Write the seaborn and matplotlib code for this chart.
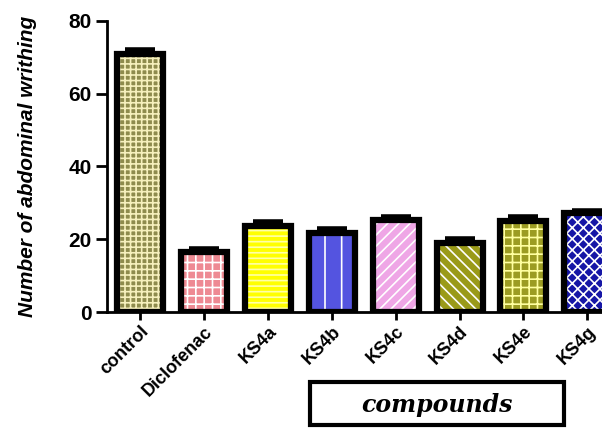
import matplotlib
matplotlib.use("Agg")
import matplotlib.pyplot as plt
import seaborn as sns
import pandas as pd
import numpy as np
from matplotlib.patches import Rectangle

categories = ["control", "Diclofenac", "KS4a", "KS4b", "KS4c", "KS4d", "KS4e", "KS4g"]
values = [71.0, 16.6, 23.6, 21.8, 25.4, 19.1, 24.9, 27.1]
errors = [1.0, 0.7, 1.1, 0.9, 0.8, 0.9, 1.3, 0.8]

face_colors = ["#8e8b4d", "#ee8a93", "#ffff00", "#5454e0", "#efa6e6", "#9a9a18", "#9c9c22", "#1616a6"]
hatch_colors = ["#f6f0bd", "#ffffff", "#ffffa8", "#ffffff", "#ffffff", "#ffffff", "#ffffa0", "#ffffff"]
hatches = ["+++", "++", "---", "|", "///", "\\\\\\", "++", "xxx"]

df = pd.DataFrame({"compound": categories, "value": values, "err": errors})

sns.set_style("white")
plt.rcParams["hatch.linewidth"] = 1.2
plt.rcParams["text.color"] = "black"
plt.rcParams["axes.labelcolor"] = "black"
plt.rcParams["xtick.color"] = "black"
plt.rcParams["ytick.color"] = "black"

fig = plt.figure(figsize=(6.02, 4.28), dpi=100)
ax = fig.add_axes([0.178, 0.271, 0.822, 0.68])

sns.barplot(data=df, x="compound", y="value", hue="compound", palette=face_colors,
            legend=False, width=0.72, errorbar=None, ax=ax, saturation=1)
for p, h, hc in zip(ax.patches, hatches, hatch_colors):
    p.set_hatch(h)
    p.set_edgecolor(hc)
    p.set_linewidth(0)

ax.errorbar(x=np.arange(len(categories)), y=df["value"],
            yerr=[np.zeros(len(errors)), df["err"]], fmt="none",
            ecolor="black", elinewidth=3.5, capsize=11, capthick=4, zorder=1)

sns.barplot(data=df, x="compound", y="value", width=0.72, errorbar=None, ax=ax,
            fill=False, color="black", linewidth=4.5)
for p in ax.patches[len(categories):]:
    p.set_edgecolor("black")
    p.set_facecolor("none")
    p.set_linewidth(4.5)
    p.set_zorder(3)

ax.set_ylim(0, 80)
ax.set_xlim(-0.52, 7.23)
ax.set_yticks([0, 20, 40, 60, 80])
ax.set_xlabel("")
ax.set_ylabel("Number of abdominal writhing", fontsize=15, fontweight="bold",
              fontstyle="italic", family=["Liberation Sans", "DejaVu Sans"], color="black")

for s in ["top", "right"]:
    ax.spines[s].set_visible(False)
for s in ["left", "bottom"]:
    ax.spines[s].set_linewidth(2)
    ax.spines[s].set_color("black")

ax.tick_params(axis="y", direction="out", length=8, width=2, left=True, labelsize=15, pad=3,
               colors="black")
ax.tick_params(axis="x", direction="out", length=6, width=2, bottom=True, labelsize=13, pad=2,
               colors="black")
for t in ax.get_yticklabels():
    t.set_fontweight("heavy")
    t.set_family(["Liberation Sans", "DejaVu Sans"])
ax.set_xticks(range(len(categories)))
ax.set_xticklabels(categories, rotation=45, ha="right", rotation_mode="anchor",
                   fontweight="bold", family=["Liberation Sans", "DejaVu Sans"])
ax.yaxis.set_label_coords(-0.142, 0.5)

box = Rectangle((310 / 602, 3 / 428), 254 / 602, 43 / 428, transform=fig.transFigure,
                fill=False, edgecolor="black", linewidth=3)
fig.add_artist(box)
fig.text(437 / 602, 23 / 428, "compounds", ha="center", va="center", fontsize=17,
         fontweight="bold", fontstyle="italic", family=["DejaVu Serif"])

fig.savefig("out.png", dpi=100)
